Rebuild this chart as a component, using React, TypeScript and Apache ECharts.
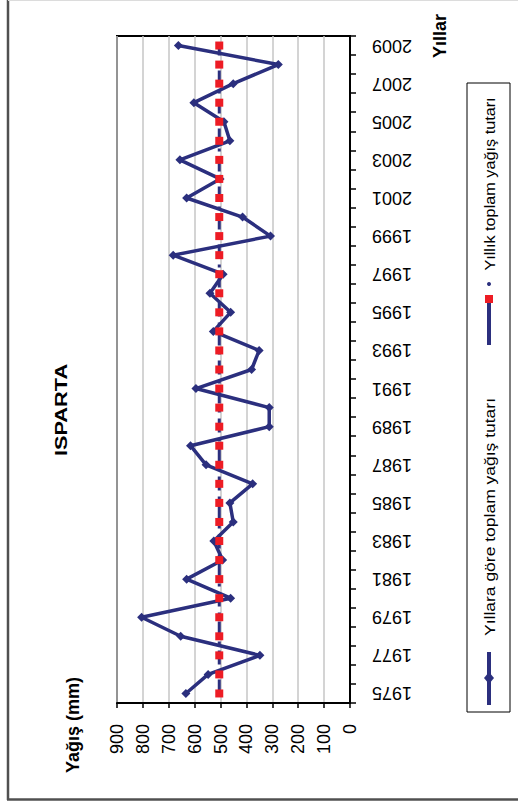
import React, { useEffect, useRef } from "react";
import * as echarts from "echarts";

const years = [
  "1975", "1976", "1977", "1978", "1979", "1980", "1981", "1982", "1983", "1984",
  "1985", "1986", "1987", "1988", "1989", "1990", "1991", "1992", "1993", "1994",
  "1995", "1996", "1997", "1998", "1999", "2000", "2001", "2002", "2003", "2004",
  "2005", "2006", "2007", "2008", "2009",
];

// Yıllara göre toplam yağış tutarı (mm)
const precipitation = [
  634, 548, 348, 654, 805, 461, 631, 492, 526, 451,
  464, 376, 556, 616, 312, 312, 595, 380, 351, 528,
  461, 541, 490, 683, 307, 415, 631, 502, 657, 464,
  487, 603, 451, 277, 663,
];

// Yıllık toplam yağış tutarı (ortalama, mm)
const yearlyAverage = [
  505, 505, 505, 505, 505, 505, 505, 505, 505, 505,
  505, 505, 505, 505, 505, 505, 505, 505, 505, 505,
  505, 505, 505, 505, 505, 505, 505, 505, 505, 505,
  505, 505, 505, 505, 505,
];

const seriesNames = ["Yıllara göre toplam yağış tutarı", "Yıllık toplam yağış tutarı"];
const titleText = "ISPARTA";
const valueAxisName = "Yağış (mm)";
const categoryAxisName = "Yıllar";

const NAVY = "#2b2f7e";
const RED = "#ed1c24";
const FONT = "'Liberation Sans', Arial, sans-serif";

export default function App() {
  const ref = useRef<HTMLDivElement>(null);

  useEffect(() => {
    if (!ref.current) return;
    const chart = echarts.init(ref.current, undefined, { renderer: "svg" });
    const lx = 489;
    chart.setOption({
      animation: false,
      backgroundColor: "#ffffff",
      textStyle: { fontFamily: FONT },
      grid: {
        left: 117,
        right: 168,
        top: 36,
        bottom: 102,
        show: true,
        borderColor: "#000",
        borderWidth: 2,
        backgroundColor: "#fff",
        containLabel: false,
      },
      xAxis: {
        type: "value",
        min: 0,
        max: 900,
        interval: 100,
        inverse: true,
        axisLine: { show: true, lineStyle: { color: "#000", width: 2 } },
        axisTick: { show: true, length: 5, lineStyle: { color: "#000", width: 1.5 } },
        axisLabel: { rotate: 90, fontSize: 18, color: "#000", margin: 21, fontFamily: FONT },
        splitLine: { show: true, lineStyle: { color: "#c6c6c6", width: 1.5 } },
      },
      yAxis: {
        type: "category",
        data: years,
        position: "right",
        axisLine: { show: true, lineStyle: { color: "#000", width: 2 } },
        axisTick: { show: true, length: 6, interval: 0, lineStyle: { color: "#000", width: 1.5 } },
        axisLabel: { interval: 1, rotate: 180, fontSize: 18, color: "#000", margin: 22, fontFamily: FONT },
        splitLine: { show: false },
      },
      series: [
        {
          name: seriesNames[0],
          type: "line",
          data: precipitation,
          symbol: "diamond",
          symbolSize: 9,
          lineStyle: { color: NAVY, width: 3.5 },
          itemStyle: { color: NAVY },
          z: 2,
        },
        {
          name: seriesNames[1],
          type: "line",
          data: yearlyAverage,
          symbol: "rect",
          symbolSize: 8,
          lineStyle: { color: NAVY, width: 3, type: [14, 6, 3, 6] },
          itemStyle: { color: RED },
          z: 3,
        },
      ],
      graphic: [
        // outer frame
        { type: "line", shape: { x1: 8, y1: 0, x2: 8, y2: 800 }, style: { stroke: "#505050", lineWidth: 2.5 } },
        { type: "line", shape: { x1: 7, y1: 799.5, x2: 518, y2: 799.5 }, style: { stroke: "#505050", lineWidth: 2.5 } },
        { type: "line", shape: { x1: 8, y1: 0.5, x2: 518, y2: 0.5 }, style: { stroke: "#dcdcdc", lineWidth: 1 } },
        // title
        {
          type: "text",
          x: 61,
          y: 410,
          rotation: Math.PI / 2,
          scaleX: 1.28,
          style: {
            text: titleText,
            font: `bold 17px ${FONT}`,
            fill: "#000",
            align: "center",
            verticalAlign: "middle",
          },
        },
        // value axis name
        {
          type: "text",
          x: 73,
          y: 725,
          rotation: Math.PI / 2,
          style: {
            text: valueAxisName,
            font: `bold 18px ${FONT}`,
            fill: "#000",
            align: "center",
            verticalAlign: "middle",
          },
        },
        // category axis name
        {
          type: "text",
          x: 440,
          y: 36,
          rotation: Math.PI / 2,
          style: {
            text: categoryAxisName,
            font: `bold 18px ${FONT}`,
            fill: "#000",
            align: "center",
            verticalAlign: "middle",
          },
        },
        // legend box
        {
          type: "rect",
          shape: { x: 467, y: 83, width: 43, height: 629 },
          style: { fill: "#fff", stroke: "#000", lineWidth: 1 },
        },
        // legend entry 1
        { type: "line", shape: { x1: lx, y1: 652, x2: lx, y2: 705 }, style: { stroke: NAVY, lineWidth: 4 } },
        {
          type: "polygon",
          shape: { points: [[lx, 672], [lx + 5, 678], [lx, 684], [lx - 5, 678]] },
          style: { fill: NAVY },
        },
        {
          type: "text",
          x: lx + 1,
          y: 517,
          rotation: Math.PI / 2,
          scaleX: 1.25,
          style: {
            text: seriesNames[0],
            font: `14px ${FONT}`,
            fill: "#000",
            align: "center",
            verticalAlign: "middle",
          },
        },
        // legend entry 2
        { type: "line", shape: { x1: lx, y1: 303, x2: lx, y2: 345 }, style: { stroke: NAVY, lineWidth: 4 } },
        { type: "rect", shape: { x: lx - 4, y: 295, width: 8, height: 8 }, style: { fill: RED } },
        { type: "circle", shape: { cx: lx, cy: 284, r: 2 }, style: { fill: NAVY } },
        {
          type: "text",
          x: lx + 1,
          y: 184,
          rotation: Math.PI / 2,
          scaleX: 1.16,
          style: {
            text: seriesNames[1],
            font: `14px ${FONT}`,
            fill: "#000",
            align: "center",
            verticalAlign: "middle",
          },
        },
      ],
    });
    return () => {
      chart.dispose();
    };
  }, []);

  return (
    <div
      ref={ref}
      style={{ position: "absolute", left: 0, top: 0, width: 518, height: 805, background: "#fff" }}
    />
  );
}
